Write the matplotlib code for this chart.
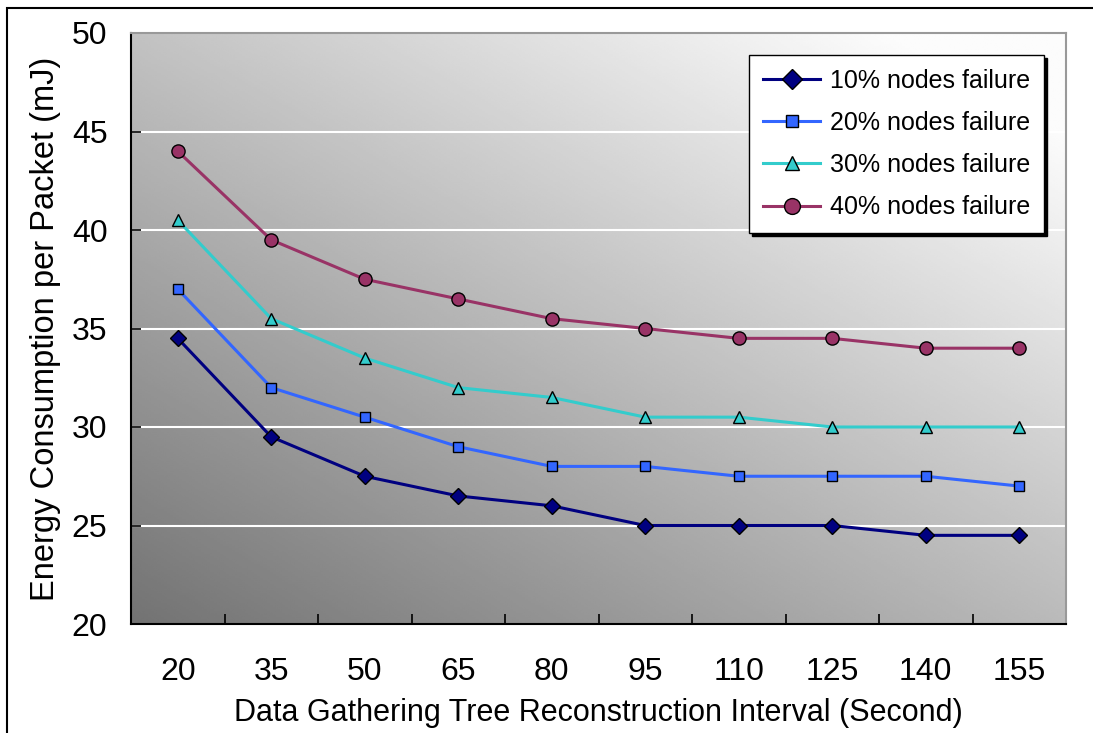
import numpy as np
import matplotlib
matplotlib.use("Agg")
import matplotlib.pyplot as plt
from matplotlib.patches import Rectangle

plt.rcParams['font.family'] = ['Liberation Sans', 'DejaVu Sans']

# reconstruction interval (s) and energy per packet (mJ)
intervals = ["20", "35", "50", "65", "80", "95", "110", "125", "140", "155"]
fail_10 = [34.5, 29.5, 27.5, 26.5, 26.0, 25.0, 25.0, 25.0, 24.5, 24.5]
fail_20 = [37.0, 32.0, 30.5, 29.0, 28.0, 28.0, 27.5, 27.5, 27.5, 27.0]
fail_30 = [40.5, 35.5, 33.5, 32.0, 31.5, 30.5, 30.5, 30.0, 30.0, 30.0]
fail_40 = [44.0, 39.5, 37.5, 36.5, 35.5, 35.0, 34.5, 34.5, 34.0, 34.0]
series_labels = ["10% nodes failure", "20% nodes failure",
                 "30% nodes failure", "40% nodes failure"]

series = [
    (fail_10, '#000080', 'D', 8.5),
    (fail_20, '#3366FF', 's', 7.5),
    (fail_30, '#33CCCC', '^', 8.5),
    (fail_40, '#993366', 'o', 9.5),
]

fig = plt.figure(figsize=(10.93, 7.33), dpi=100)
ax = fig.add_axes([131 / 1093, 1 - 624 / 733, (1066 - 131) / 1093, (624 - 33) / 733])

# outer frame around the whole figure
fig.patches.append(Rectangle((7 / 1093, -0.1), 1.2, 1 - 8 / 733 + 0.1,
                             transform=fig.transFigure, fill=False,
                             edgecolor='black', linewidth=1.5, zorder=0))

n = len(intervals)
ax.set_xlim(0, n)
ax.set_ylim(20, 50)

# diagonal grey gradient background (dark bottom-left -> white top-right)
gx, gy = np.meshgrid(np.linspace(0, 1, 300), np.linspace(0, 1, 300))
shade = np.clip(0.45 + 0.28 * gx + 0.31 * gy, 0, 0.985)
ax.imshow(shade, cmap='gray', vmin=0, vmax=1, origin='lower', aspect='auto',
          extent=(0, n, 20, 50), zorder=0, interpolation='bilinear')

for yv in [25, 30, 35, 40, 45]:
    ax.axhline(yv, color='white', linewidth=1.5, zorder=1)

xs = np.arange(n) + 0.5
for (vals, col, mk, ms), lab in zip(series, series_labels):
    ax.plot(xs, vals, color=col, linewidth=2.2, marker=mk, markersize=ms,
            markerfacecolor=col, markeredgecolor='black', markeredgewidth=1.0,
            label=lab, zorder=3)

ax.set_xticks(np.arange(n + 1))
ax.set_xticklabels([])
ax.set_xticks(xs, minor=True)
ax.set_xticklabels(intervals, minor=True)
ax.tick_params(axis='x', which='major', direction='in', length=7, width=1.2)
ax.tick_params(axis='x', which='minor', length=0, pad=24, labelsize=23)
ax.set_yticks([20, 25, 30, 35, 40, 45, 50])
ax.tick_params(axis='y', direction='in', length=7, width=1.2, pad=17, labelsize=23)

for side in ['left', 'bottom']:
    ax.spines[side].set_color('black')
    ax.spines[side].set_linewidth(1.5)
for side in ['top', 'right']:
    ax.spines[side].set_color('#999999')
    ax.spines[side].set_linewidth(1.5)

ax.set_xlabel("Data Gathering Tree Reconstruction Interval (Second)", fontsize=22, labelpad=8)
ax.set_ylabel("Energy Consumption per Packet (mJ)", fontsize=23.5, labelpad=8)

leg = ax.legend(loc='upper right', bbox_to_anchor=(0.977, 0.963), fontsize=18,
                frameon=True, fancybox=False, shadow={'color': 'black', 'alpha': 1.0},
                borderpad=0.55, labelspacing=0.73, handlelength=2.3, handletextpad=0.4,
                borderaxespad=0, markerscale=1.2)
leg.get_frame().set_edgecolor('black')
leg.get_frame().set_linewidth(1.0)
leg.get_frame().set_facecolor('white')

fig.savefig("out.png", dpi=100, facecolor='white')
